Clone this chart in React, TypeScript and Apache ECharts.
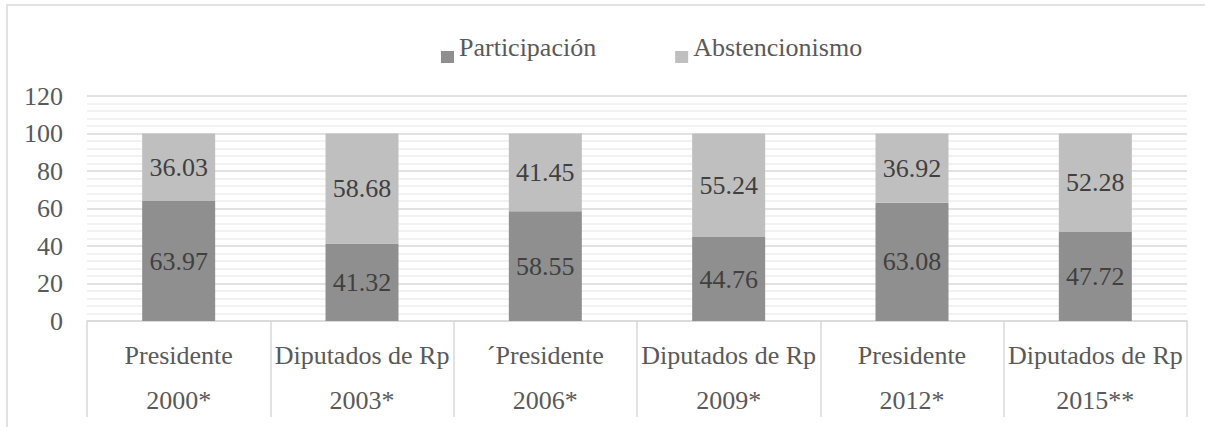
import React, { useEffect, useRef } from "react";
import * as echarts from "echarts";

const categories = [
  "Presidente\n2000*",
  "Diputados de Rp\n2003*",
  "\u00b4Presidente\n2006*",
  "Diputados de Rp\n2009*",
  "Presidente\n2012*",
  "Diputados de Rp\n2015**",
];
const participacion = [63.97, 41.32, 58.55, 44.76, 63.08, 47.72];
const abstencionismo = [36.03, 58.68, 41.45, 55.24, 36.92, 52.28];
const seriesNames = ["Participación", "Abstencionismo"];

const FONT = "Liberation Serif";
// legend marker sits below the text's middle, as in the reference
const LEGEND_ICON = "path://M0,0L0.01,0L0,0.01Z M0,19L13,19L13,31L0,31Z";

export default function App() {
  const ref = useRef<HTMLDivElement>(null);
  useEffect(() => {
    if (!ref.current) return;
    const chart = echarts.init(ref.current, undefined, { renderer: "svg" });
    const labelStyle = {
      show: true,
      position: "inside" as const,
      color: "#404040",
      fontSize: 26,
      fontFamily: FONT,
    };
    chart.setOption({
      animation: false,
      textStyle: { fontFamily: FONT },
      graphic: [
        {
          type: "rect",
          shape: { x: 7, y: 5, width: 1400, height: 600 },
          style: { fill: "none", stroke: "#d9d9d9", lineWidth: 1.5 },
          silent: true,
        },
      ],
      legend: {
        top: 27,
        left: 436,
        itemWidth: 13,
        itemHeight: 31,
        itemGap: 79,
        icon: LEGEND_ICON,
        textStyle: { fontSize: 26, color: "#595959", fontFamily: FONT },
        data: seriesNames,
      },
      grid: { left: 87, right: 18, top: 96, bottom: 106, containLabel: false },
      xAxis: {
        type: "category",
        data: categories,
        axisLine: { show: true, lineStyle: { color: "#d9d9d9", width: 1.5 } },
        axisTick: {
          show: true,
          length: 96,
          interval: 0,
          lineStyle: { color: "#d9d9d9", width: 1.5 },
        },
        axisLabel: {
          interval: 0,
          color: "#595959",
          fontSize: 26,
          fontFamily: FONT,
          lineHeight: 45,
          margin: 12,
        },
      },
      yAxis: {
        type: "value",
        min: 0,
        max: 120,
        interval: 20,
        axisLine: { show: false },
        axisTick: { show: false },
        axisLabel: { color: "#595959", fontSize: 26, fontFamily: FONT, margin: 24 },
        splitLine: { show: true, lineStyle: { color: "#d9d9d9", width: 1.5 } },
        minorTick: { show: false, splitNumber: 5 },
        minorSplitLine: { show: true, lineStyle: { color: "#eeeeee", width: 1.5 } },
      },
      series: [
        {
          name: seriesNames[0],
          type: "bar",
          stack: "total",
          barWidth: 73,
          data: participacion,
          itemStyle: { color: "#8f8f8f" },
          label: labelStyle,
        },
        {
          name: seriesNames[1],
          type: "bar",
          stack: "total",
          barWidth: 73,
          data: abstencionismo,
          itemStyle: { color: "#bfbfbf" },
          label: labelStyle,
        },
      ],
    });
    return () => chart.dispose();
  }, []);
  return (
    <div
      ref={ref}
      style={{ position: "absolute", left: 0, top: 0, width: 1205, height: 427, background: "#fff" }}
    />
  );
}
